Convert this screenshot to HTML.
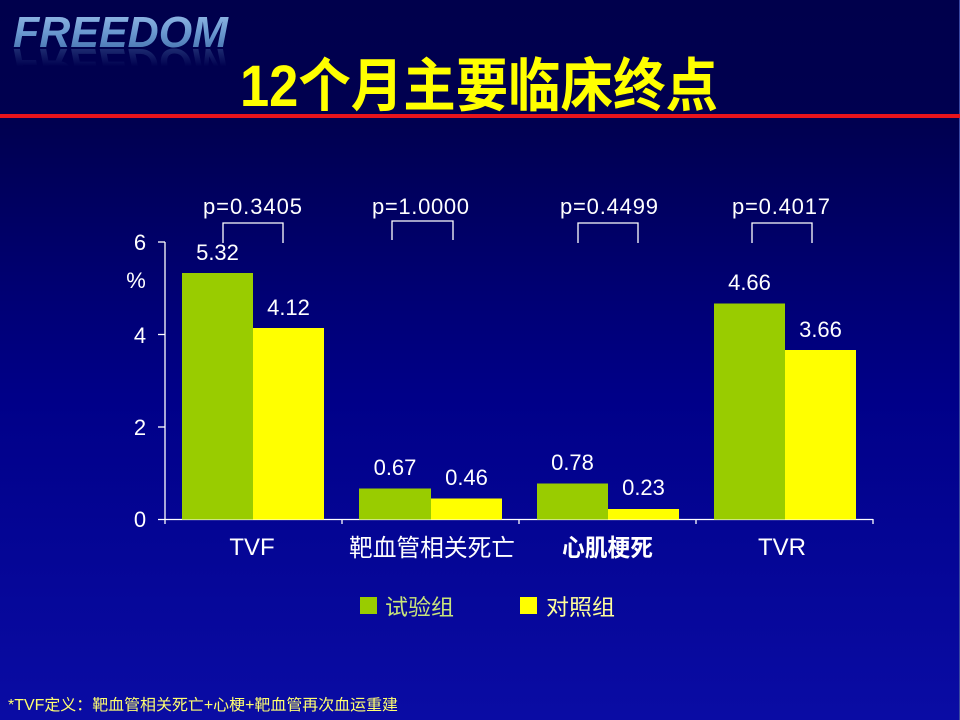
<!DOCTYPE html>
<html><head><meta charset="utf-8">
<style>
html,body{margin:0;padding:0;width:960px;height:720px;overflow:hidden;background:#000050;}
svg{display:block;}
text{font-family:"Liberation Sans","Noto Sans CJK SC",sans-serif;}
</style></head>
<body>
<svg width="960" height="720" viewBox="0 0 960 720" xmlns="http://www.w3.org/2000/svg">
<defs>
<linearGradient id="bg" x1="0" y1="0" x2="0" y2="1">
<stop offset="0" stop-color="#00004c"/>
<stop offset="0.17" stop-color="#000050"/>
<stop offset="0.55" stop-color="#000088"/>
<stop offset="1" stop-color="#0a0ca4"/>
</linearGradient>
<linearGradient id="fr" x1="0" y1="0" x2="0" y2="1">
<stop offset="0" stop-color="#9cc0ea"/>
<stop offset="0.5" stop-color="#6a98d0"/>
<stop offset="1" stop-color="#3d6aa8"/>
</linearGradient>
<linearGradient id="frr" gradientUnits="userSpaceOnUse" x1="0" y1="49" x2="0" y2="20">
<stop offset="0" stop-color="#5078b0" stop-opacity="0.35"/>
<stop offset="0.6" stop-color="#5078b0" stop-opacity="0"/>
</linearGradient>
</defs>
<rect x="0" y="0" width="960" height="720" fill="url(#bg)"/>
<rect x="959" y="0" width="1" height="720" fill="#3a48a0"/>
<!-- header -->
<text x="13" y="49" font-size="44" font-weight="bold" font-style="italic" fill="url(#frr)" textLength="215" lengthAdjust="spacingAndGlyphs" transform="translate(0,98) scale(1,-1)">FREEDOM</text>
<text x="13" y="47" font-size="44" font-weight="bold" font-style="italic" fill="url(#fr)" textLength="215" lengthAdjust="spacingAndGlyphs">FREEDOM</text>
<text x="240" y="106" font-size="58" font-weight="bold" fill="#ffff00" textLength="478" lengthAdjust="spacingAndGlyphs">12个月主要临床终点</text>
<rect x="0" y="114" width="960" height="4" fill="#e8141c"/>

<!-- axes -->
<g stroke="#ffffff" stroke-width="1.3" fill="none">
<line x1="165" y1="242" x2="165" y2="524"/>
<line x1="158" y1="242" x2="165" y2="242"/>
<line x1="158" y1="334.5" x2="165" y2="334.5"/>
<line x1="158" y1="427" x2="165" y2="427"/>
<line x1="158" y1="519.5" x2="873" y2="519.5"/>
<line x1="342" y1="519" x2="342" y2="524"/>
<line x1="519" y1="519" x2="519" y2="524"/>
<line x1="696" y1="519" x2="696" y2="524"/>
<line x1="873" y1="519" x2="873" y2="524"/>
<!-- brackets -->
<polyline points="223,243 223,223 283,223 283,243"/>
<polyline points="392,240 392,221 453,221 453,240"/>
<polyline points="578,243 578,223 638,223 638,243"/>
<polyline points="752,243 752,223 812,223 812,243"/>
</g>
<g font-size="22" fill="#ffffff" text-anchor="middle">
<text x="140" y="250">6</text>
<text x="140" y="343">4</text>
<text x="140" y="435">2</text>
<text x="140" y="527">0</text>
</g>
<text x="136" y="288" font-size="22" fill="#ffffff" text-anchor="middle">%</text>

<!-- bars -->
<g>
<rect x="182" y="273" width="71" height="246.5" fill="#99cc00"/>
<rect x="253" y="328" width="71" height="191.5" fill="#ffff00"/>
<rect x="359" y="488.5" width="72" height="31" fill="#99cc00"/>
<rect x="431" y="498.5" width="71" height="21" fill="#ffff00"/>
<rect x="537" y="483.5" width="71" height="36" fill="#99cc00"/>
<rect x="608" y="509" width="71" height="10.5" fill="#ffff00"/>
<rect x="714" y="303.5" width="71" height="216" fill="#99cc00"/>
<rect x="785" y="350" width="71" height="169.5" fill="#ffff00"/>
</g>

<!-- value labels -->
<g font-size="22" fill="#ffffff" text-anchor="middle">
<text x="217.5" y="260">5.32</text>
<text x="288.5" y="315">4.12</text>
<text x="395" y="475">0.67</text>
<text x="466.5" y="485">0.46</text>
<text x="572.5" y="470">0.78</text>
<text x="643.5" y="495">0.23</text>
<text x="749.5" y="290">4.66</text>
<text x="820.5" y="337">3.66</text>
</g>

<!-- p values -->
<g font-size="22" fill="#ffffff" text-anchor="middle">
<text x="252.5" y="214" textLength="99" lengthAdjust="spacing">p=0.3405</text>
<text x="420.5" y="214" textLength="97" lengthAdjust="spacing">p=1.0000</text>
<text x="609" y="214" textLength="98" lengthAdjust="spacing">p=0.4499</text>
<text x="781" y="214" textLength="98" lengthAdjust="spacing">p=0.4017</text>
</g>

<!-- category labels -->
<g font-size="24" fill="#ffffff" text-anchor="middle">
<text x="252" y="555">TVF</text>
<text x="432" y="556" textLength="166" lengthAdjust="spacingAndGlyphs">靶血管相关死亡</text>
<text x="607.5" y="556" font-weight="bold" textLength="91" lengthAdjust="spacingAndGlyphs">心肌梗死</text>
<text x="782" y="555">TVR</text>
</g>

<!-- legend -->
<rect x="360" y="597" width="17" height="17" fill="#99cc00"/>
<text x="385" y="615" font-size="22" fill="#c8e47a" textLength="69" lengthAdjust="spacingAndGlyphs">试验组</text>
<rect x="520" y="597" width="17" height="17" fill="#ffff00"/>
<text x="546" y="615" font-size="22" fill="#ffff99" textLength="69" lengthAdjust="spacingAndGlyphs">对照组</text>

<!-- footnote -->
<text x="8" y="710" font-size="15.5" fill="#ffff70" textLength="390" lengthAdjust="spacingAndGlyphs">*TVF定义：靶血管相关死亡+心梗+靶血管再次血运重建</text>
</svg>
</body></html>
